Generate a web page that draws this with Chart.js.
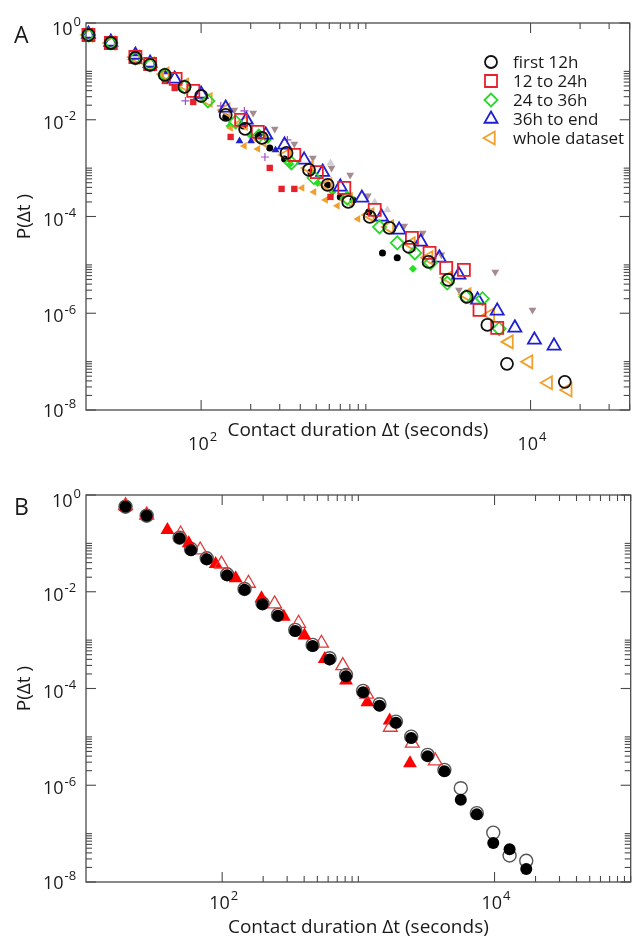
<!DOCTYPE html>
<html><head><meta charset="utf-8">
<script src="https://cdn.jsdelivr.net/npm/chart.js@4.4.1/dist/chart.umd.min.js"></script>
<style>
html,body{margin:0;padding:0;background:#fff;overflow:hidden;width:639px;height:940px}
.wrap{position:absolute;left:0;width:640px;height:470px}
</style></head><body>
<div class="wrap" style="top:0"><canvas id="ca" width="640" height="470"></canvas></div>
<div class="wrap" style="top:470px"><canvas id="cb" width="640" height="470"></canvas></div>
<script>
// ---------- Panel A data ----------
const first12hX = [20.7, 28.3, 39.9, 49.0, 60.2, 79.2, 100, 141, 185, 234, 330, 452, 586, 782, 1057, 1390, 1828, 2404, 3162, 4103, 5470, 7195, 16150];
const first12hY = [0.565, 0.386, 0.189, 0.136, 0.0843, 0.0476, 0.031, 0.0126, 6.46e-3, 4.21e-3, 2.06e-3, 9.18e-4, 4.5e-4, 2.0e-4, 9.8e-5, 5.8e-5, 2.35e-5, 1.15e-5, 4.9e-6, 2.18e-6, 5.75e-7, 9.0e-8, 3.83e-8];
const h12to24X = [20.7, 28.3, 39.9, 49.0, 70.0, 89.6, 175, 221, 368, 504, 740, 1132, 1905, 2438, 3076, 3937, 4900, 6277];
const h12to24Y = [0.565, 0.386, 0.198, 0.142, 0.0697, 0.0394, 9.9e-3, 5.6e-3, 1.87e-3, 8.3e-4, 3.9e-4, 1.37e-4, 3.6e-5, 1.77e-5, 8.7e-6, 7.9e-6, 1.17e-6, 5.0e-7];
const h24to36X = [20.7, 28.3, 39.9, 49.0, 60.2, 79.2, 110, 162, 224, 353, 484, 771, 1211, 1551, 1984, 2472, 3120, 4045, 5109, 6450];
const h24to36Y = [0.565, 0.386, 0.189, 0.136, 0.0843, 0.0476, 0.0245, 9.0e-3, 4.6e-3, 1.28e-3, 6.3e-4, 2.4e-4, 6.1e-5, 2.85e-5, 1.77e-5, 1.1e-5, 4.2e-6, 2.2e-6, 2.0e-6, 4.8e-7];
const h36toEndX = [20.7, 28.3, 39.9, 49.0, 69.1, 100, 141, 188, 247, 321, 422, 547, 700, 946, 1245, 1593, 2155, 2794, 3675, 4771, 6277, 8033, 10560, 13890];
const h36toEndY = [0.593, 0.405, 0.218, 0.149, 0.0697, 0.0341, 0.01754, 9.9e-3, 4.85e-3, 3.02e-3, 1.48e-3, 8.3e-4, 4.09e-4, 2.42e-4, 9.8e-5, 5.3e-5, 2.99e-5, 1.4e-5, 6.2e-6, 1.89e-6, 1.12e-6, 5.0e-7, 2.82e-7, 2.12e-7];
const wholeX = [20.7, 28.3, 39.9, 49.0, 60.2, 79.2, 110, 141, 180, 234, 330, 452, 586, 782, 1057, 1390, 1879, 2404, 3162, 4103, 5702, 7400, 9730, 12800, 16830];
const wholeY = [0.565, 0.386, 0.198, 0.142, 0.0884, 0.0524, 0.0257, 0.0159, 8.6e-3, 3.83e-3, 1.87e-3, 1.01e-3, 4.5e-4, 2.2e-4, 1.08e-4, 6.1e-5, 2.72e-5, 1.4e-5, 5.4e-6, 2.4e-6, 9.3e-7, 2.56e-7, 9.9e-8, 3.65e-8, 2.6e-8];
// small filled (unlabelled) series in panel A
const redFillX = [60.2, 69.1, 89.6, 151, 261, 308, 368, 610];
const redFillY = [0.0633, 0.0454, 0.0233, 4.41e-3, 1.01e-3, 3.72e-4, 3.72e-4, 2.54e-4];
const orangeFillX = [57.8, 151, 183, 221, 410, 484, 570, 672, 896];
const orangeFillY = [0.0843, 6.77e-3, 2.87e-3, 2.49e-3, 3.9e-4, 3.22e-4, 2.2e-4, 1.66e-4, 8.9e-5];
const blueFillX = [39.9, 60.2, 171, 201, 283];
const blueFillY = [0.229, 0.0972, 3.65e-3, 3.65e-3, 2.38e-3];
const blackFillX = [141, 180, 221, 261, 321, 464, 586, 700, 837, 1042, 1262, 1551];
const blackFillY = [0.01143, 7.45e-3, 4.85e-3, 2.61e-3, 1.55e-3, 8.3e-4, 4.5e-4, 2.54e-4, 2.2e-4, 1.24e-4, 1.77e-5, 1.4e-5];
const greenFillX = [149, 198, 254, 348, 511, 628, 1931];
const greenFillY = [7.45e-3, 4.85e-3, 3.83e-3, 1.22e-3, 4.94e-4, 3.22e-4, 8.3e-6];
const plusX = [80.3, 131.6, 183, 244, 334];
const plusY = [0.0245, 0.0193, 0.0152, 1.70e-3, 3.83e-3];
const downTriX = [159, 207, 280, 368, 477, 619, 803, 1028, 1708, 2215, 2872, 3675, 6105, 10280];
const downTriY = [0.0159, 0.0138, 6.46e-3, 3.16e-3, 1.62e-3, 1.01e-3, 7.24e-4, 2.67e-4, 6.4e-5, 4.58e-5, 1.61e-5, 3.04e-6, 7.16e-6, 1.17e-6];
const lightTriX = [610, 1132, 1352];
const lightTriY = [1.28e-3, 2.0e-4, 1.37e-4];

// ---------- Panel B data ----------
const c25X = [19.5, 27.9, 48.7, 59.0, 77.0, 108.7, 145.9, 197.7, 256.7, 344, 461.6, 615, 812, 1083, 1430, 1887, 2445, 3228, 4285, 5653, 7413, 9789, 12900, 17100];
const c25WholeY = [0.573, 0.3735, 0.131, 0.0766, 0.0492, 0.0230, 0.01143, 5.78e-3, 3.32e-3, 1.63e-3, 7.96e-4, 4.23e-4, 1.91e-4, 8.92e-5, 4.74e-5, 2.07e-5, 1.01e-5, 4.24e-6, 2.08e-6, 8.7e-7, 2.65e-7, 1.05e-7, 3.53e-8, 2.74e-8];
const c25SampledY = [0.573, 0.3735, 0.128, 0.072, 0.047, 0.022, 0.0110, 5.5e-3, 3.2e-3, 1.55e-3, 7.6e-4, 4.0e-4, 1.8e-4, 8.4e-5, 4.4e-5, 1.95e-5, 9.5e-6, 4.0e-6, 1.95e-6, 4.99e-7, 2.5e-7, 6.37e-8, 4.78e-8, 1.85e-8];
const sfhhWholeX = [19.5, 27.9, 49.5, 69.0, 98.8, 156, 242.5, 364, 536, 769, 1152, 1717, 2488, 3671];
const sfhhWholeY = [0.601, 0.386, 0.156, 0.0731, 0.0375, 0.0150, 5.6e-3, 2.23e-3, 8.63e-4, 2.97e-4, 7.62e-5, 1.58e-5, 7.41e-6, 3.19e-6];
const sfhhSampledX = [19.5, 27.9, 39.6, 56.8, 89.5, 125.6, 194.4, 283.6, 402, 566, 812, 1165, 1698, 2394];
const sfhhSampledY = [0.573, 0.386, 0.189, 0.1005, 0.0375, 0.0190, 7.34e-3, 3.06e-3, 1.24e-3, 4.09e-4, 1.46e-4, 5.21e-5, 2.17e-5, 2.86e-6];

// ---------- axes / labels ----------
const yTickExp = [0, -2, -4, -6, -8];
const xTickExp = [2, 4];
const legendA = ['first 12h', '12 to 24h', '24 to 36h', '36h to end', 'whole dataset'];
const legendB = ['25C3, whole dataset', '25C3, sampled', 'SFHH, whole dataset', 'SFHH, sampled'];
const xTitle = 'Contact duration \u0394t (seconds)';
const yTitle = 'P(\u0394t )';
const FONT = '"Open Sans", "Noto Sans", sans-serif';

function pts(xs, ys) { return xs.map((x, i) => ({x: x, y: ys[i]})); }

function ds(label, xs, ys, o) {
  return Object.assign({label: label, data: pts(xs, ys), showLine: false, clip: false,
    pointBorderWidth: 1.8, pointBackgroundColor: 'rgba(0,0,0,0)'}, o);
}

function drawPow(ctx, exp, x, y, align, fs, sfs) {
  const base = '10', sup = String(exp).replace('-', '\u2010');
  ctx.font = fs + 'px ' + FONT;
  const wb = ctx.measureText(base).width;
  ctx.font = sfs + 'px ' + FONT;
  const ws = ctx.measureText(sup).width;
  let left = x;
  if (align === 'center') left = x - (wb + ws) / 2;
  ctx.textAlign = 'left';
  ctx.textBaseline = 'alphabetic';
  ctx.font = fs + 'px ' + FONT;
  ctx.fillText(base, left, y);
  ctx.font = sfs + 'px ' + FONT;
  ctx.fillText(sup, left + wb + 1, y - fs * 0.48);
}

function makeAxesPlugin(p) {
  return {
    id: 'customAxes',
    afterDatasetsDraw(chart) {
      const ctx = chart.ctx, a = chart.chartArea, xs = chart.scales.x, ys = chart.scales.y;
      ctx.save();
      ctx.strokeStyle = '#4a4a4a';
      ctx.lineWidth = 1.3;
      ctx.strokeRect(a.left, a.top, a.right - a.left, a.bottom - a.top);
      const line = (x1, y1, x2, y2) => { ctx.beginPath(); ctx.moveTo(x1, y1); ctx.lineTo(x2, y2); ctx.stroke(); };
      const MAJ = 10, MIN = 6;
      ctx.lineWidth = 1.1;
      // x ticks
      xTickExp.forEach(e => {
        const v = Math.pow(10, e);
        const px = xs.getPixelForValue(v);
        line(px, a.bottom, px, a.bottom - MAJ); line(px, a.top, px, a.top + MAJ);
        for (let m = 2; m <= 10; m++) {
          const mv = m * v; if (mv > xs.max * 1.0001) break;
          const mp = xs.getPixelForValue(mv);
          line(mp, a.bottom, mp, a.bottom - MIN); line(mp, a.top, mp, a.top + MIN);
        }
      });
      // y ticks
      yTickExp.forEach(e => {
        const v = Math.pow(10, e);
        const py = ys.getPixelForValue(v);
        line(a.left, py, a.left + MAJ, py); line(a.right, py, a.right - MAJ, py);
        for (let m = 2; m <= 10; m++) {
          const mv = m * v; if (mv > ys.max * 1.0001) break;
          const mp = ys.getPixelForValue(mv);
          line(a.left, mp, a.left + MIN, mp); line(a.right, mp, a.right - MIN, mp);
        }
      });
      ctx.fillStyle = '#1a1a1a';
      // y tick labels
      yTickExp.forEach(e => {
        const py = ys.getPixelForValue(Math.pow(10, e));
        let yy = py + 9;
        if (e === 0) yy = py + 12;
        if (e === -8) yy = py + 7;
        drawPow(ctx, e, e === 0 ? 52 : 43, yy, 'left', 18, 13);
      });
      // x tick labels
      xTickExp.forEach(e => {
        const px = xs.getPixelForValue(Math.pow(10, e));
        drawPow(ctx, e, px + 1, a.bottom + p.xLabelDy, 'center', 18, 13);
      });
      // titles
      ctx.font = '19px ' + FONT;
      ctx.textAlign = 'center';
      ctx.textBaseline = 'alphabetic';
      ctx.fillText(xTitle, (a.left + a.right) / 2, a.bottom + p.xTitleDy);
      ctx.save();
      ctx.translate(30, (a.top + a.bottom) / 2);
      ctx.rotate(-Math.PI / 2);
      ctx.textBaseline = 'alphabetic';
      ctx.fillText(yTitle, 0, 0);
      ctx.restore();
      // panel letter
      ctx.font = '23px ' + FONT;
      ctx.textAlign = 'left';
      ctx.fillText(p.letter, 14, a.top + 20);
      // legend
      const L = p.legend;
      chart.data.datasets.slice(0, L.labels.length).forEach((d, i) => {
        const yy = L.y + i * L.dy;
        ctx.save();
        ctx.strokeStyle = d.pointBorderColor;
        ctx.fillStyle = d.pointBackgroundColor;
        ctx.lineWidth = d.pointBorderWidth;
        Chart.helpers.drawPoint(ctx, {pointStyle: d.pointStyle, rotation: d.pointRotation || 0,
          radius: d.pointRadius * L.scale, borderWidth: d.pointBorderWidth}, L.x, yy);
        ctx.restore();
        ctx.fillStyle = '#1a1a1a';
        ctx.font = L.fs + 'px ' + FONT;
        ctx.textAlign = 'left';
        ctx.textBaseline = 'middle';
        ctx.fillText(L.labels[i], L.tx, yy + 1);
      });
      ctx.restore();
    }
  };
}

function baseOptions(xmin, xmax) {
  return {
    responsive: false, animation: false, devicePixelRatio: 1,
    layout: {padding: {left: 86, top: 23, right: 0, bottom: 60}},
    plugins: {legend: {display: false}, tooltip: {enabled: false}},
    scales: {
      x: {type: 'logarithmic', min: xmin, max: xmax, display: false},
      y: {type: 'logarithmic', min: 1e-8, max: 1, display: false}
    }
  };
}

// ---------- Chart A ----------
const dsA = [
  ds(legendA[0], first12hX, first12hY, {pointStyle: 'circle', pointRadius: 6, pointBorderColor: '#111111'}),
  ds(legendA[1], h12to24X, h12to24Y, {pointStyle: 'rect', pointRadius: 8.5, pointBorderColor: '#e8202a'}),
  ds(legendA[2], h24to36X, h24to36Y, {pointStyle: 'rectRot', pointRadius: 6.5, pointBorderColor: '#28d828'}),
  ds(legendA[3], h36toEndX, h36toEndY, {pointStyle: 'triangle', pointRadius: 7.5, pointBorderColor: '#1e1ed2'}),
  ds(legendA[4], wholeX, wholeY, {pointStyle: 'triangle', pointRotation: -90, pointRadius: 7.5, pointBorderColor: '#f0a02a'}),
  ds('12-24h sampled', redFillX, redFillY, {pointStyle: 'rect', pointRadius: 4.5, pointBorderWidth: 0, pointBackgroundColor: '#e8202a'}),
  ds('whole sampled', orangeFillX, orangeFillY, {pointStyle: 'triangle', pointRotation: -90, pointRadius: 4.5, pointBorderWidth: 0, pointBackgroundColor: '#f0a02a'}),
  ds('36h sampled', blueFillX, blueFillY, {pointStyle: 'triangle', pointRadius: 4.5, pointBorderWidth: 0, pointBackgroundColor: '#1e1ed2'}),
  ds('first 12h sampled', blackFillX, blackFillY, {pointStyle: 'circle', pointRadius: 3.5, pointBorderWidth: 0, pointBackgroundColor: '#000000'}),
  ds('24-36h sampled', greenFillX, greenFillY, {pointStyle: 'rectRot', pointRadius: 4, pointBorderWidth: 0, pointBackgroundColor: '#22e022'}),
  ds('plus', plusX, plusY, {pointStyle: 'cross', pointRadius: 4, pointBorderWidth: 1.2, pointBorderColor: '#a050c8'}),
  ds('down', downTriX, downTriY, {pointStyle: 'triangle', pointRotation: 180, pointRadius: 4.5, pointBorderWidth: 0, pointBackgroundColor: '#a58a8e'}),
  ds('light', lightTriX, lightTriY, {pointStyle: 'triangle', pointRadius: 4.5, pointBorderWidth: 0, pointBackgroundColor: '#cfcfd6'})
];
// draw order: small filled markers beneath the open ones
dsA.forEach((d, i) => { d.order = i < 5 ? 0 : 1; });

new Chart(document.getElementById('ca'), {
  type: 'scatter',
  data: {datasets: dsA},
  options: baseOptions(20, 40000),
  plugins: [makeAxesPlugin({letter: 'A', xLabelDy: 40, xTitleDy: 26,
    legend: {labels: legendA, x: 491, y: 62, dy: 19, tx: 513, fs: 17, scale: 1}})]
});

// ---------- Chart B ----------
const dsB = [
  ds(legendB[0], c25X, c25WholeY, {pointStyle: 'circle', pointRadius: 6.5, pointBorderWidth: 1.4, pointBorderColor: '#555555', order: 1}),
  ds(legendB[1], c25X, c25SampledY, {pointStyle: 'circle', pointRadius: 6, pointBorderWidth: 0, pointBackgroundColor: '#000000', order: 0}),
  ds(legendB[2], sfhhWholeX, sfhhWholeY, {pointStyle: 'triangle', pointRadius: 8, pointBorderWidth: 1.3, pointBorderColor: '#e03a3a', order: 0}),
  ds(legendB[3], sfhhSampledX, sfhhSampledY, {pointStyle: 'triangle', pointRadius: 8, pointBorderWidth: 0, pointBackgroundColor: '#ff0000', order: 0})
];

new Chart(document.getElementById('cb'), {
  type: 'scatter',
  data: {datasets: dsB},
  options: Object.assign(baseOptions(10, 100000), {layout: {padding: {left: 86, top: 25, right: 0, bottom: 58}}}),
  plugins: [makeAxesPlugin({letter: 'B', xLabelDy: 27, xTitleDy: 51,
    legend: {labels: legendB, x: 403, y: 550, dy: 21.8, tx: 428, fs: 17, scale: 0.85}})]
});
</script>
</body></html>
